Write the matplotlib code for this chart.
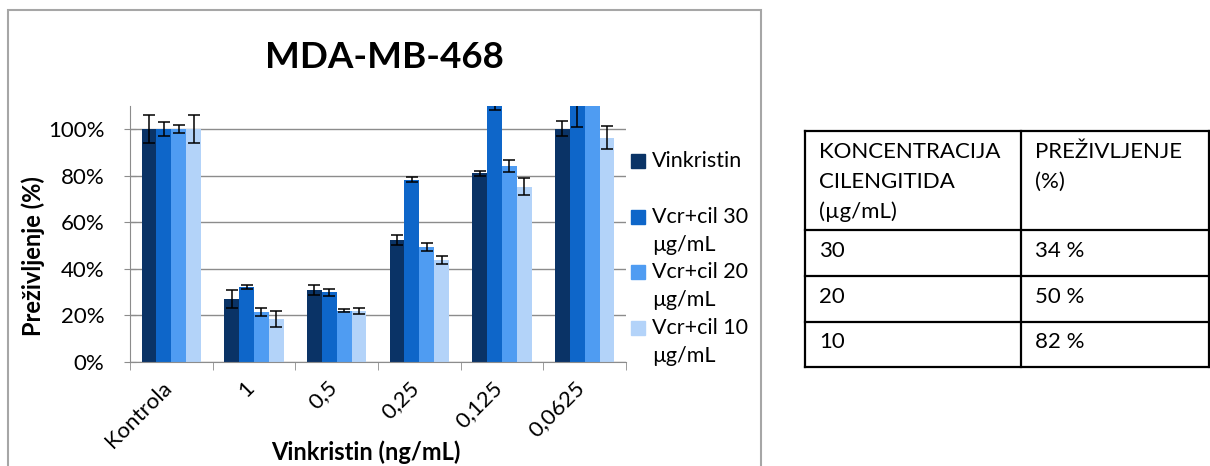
import numpy as np
import matplotlib
matplotlib.use("Agg")
import matplotlib.pyplot as plt
from matplotlib.lines import Line2D
from matplotlib.patches import Rectangle
from matplotlib.ticker import PercentFormatter, FixedLocator
from matplotlib.transforms import ScaledTranslation

plt.rcParams["font.family"] = ["Lato", "DejaVu Sans"]

# ---- data ----
categories = ["Kontrola", "1", "0,5", "0,25", "0,125", "0,0625"]
series = ["Vinkristin", "Vcr+cil 30\nµg/mL", "Vcr+cil 20\nµg/mL", "Vcr+cil 10\nµg/mL"]
vinkristin = [100, 27, 31, 52.4, 81, 100.3]
vinkristin_err = [6, 4, 2.3, 2, 1, 3.4]
vcr30 = [100, 32.3, 29.9, 78.4, 111, 116]
vcr30_err = [3, 1, 1.5, 1, 2.6, 15]
vcr20 = [100, 21.6, 22, 49.5, 84.2, 118]
vcr20_err = [1.7, 1.8, 0.6, 1.8, 2.4, 5]
vcr10 = [100, 18.4, 21.9, 43.8, 75.4, 96.4]
vcr10_err = [6, 3.5, 1.3, 1.9, 3.8, 4.9]
colors = ["#0A3366", "#0E66C9", "#4F9CF2", "#B3D3F9"]

table_header = [["KONCENTRACIJA", "CILENGITIDA", "(µg/mL)"], ["PREŽIVLJENJE", "(%)"]]
table_rows = [["30", "34 %"], ["20", "50 %"], ["10", "82 %"]]

W, H = 1210, 466
fig = plt.figure(figsize=(W / 100, H / 100), dpi=100)


def fx(x):
    return x / W


def fy(y):
    return 1 - y / H


# chart frame (bottom edge runs off the picture)
fig.add_artist(Rectangle((fx(8), fy(480)), fx(761) - fx(8), fy(10) - fy(480),
                         transform=fig.transFigure, fill=False,
                         edgecolor="#A6A6A6", lw=1.5))

ax = fig.add_axes([fx(130), fy(362), fx(626) - fx(130), fy(106) - fy(362)])
values = [vinkristin, vcr30, vcr20, vcr10]
errors = [vinkristin_err, vcr30_err, vcr20_err, vcr10_err]
x = np.arange(len(categories))
w = 0.18
for i, (v, e, c) in enumerate(zip(values, errors, colors)):
    ax.bar(x + (i - 1.5) * w, v, width=w, color=c, zorder=2)
    ax.errorbar(x + (i - 1.5) * w, v, yerr=e, fmt="none", ecolor="black",
                elinewidth=1.1, capsize=4.3, capthick=1.1, zorder=3)

ax.set_xlim(-0.5, len(categories) - 0.5)
ax.set_ylim(0, 110)
ax.set_yticks(np.arange(0, 101, 20))
ax.yaxis.set_major_formatter(PercentFormatter(xmax=100, decimals=0))
ax.yaxis.grid(True, color="#8C8C8C", lw=1, zorder=0)
ax.set_axisbelow(True)
for s in ("top", "right"):
    ax.spines[s].set_visible(False)
for s in ("left", "bottom"):
    ax.spines[s].set_color("#8C8C8C")
ax.tick_params(axis="y", direction="inout", length=9, color="#8C8C8C",
               labelsize=16, pad=14)
ax.set_xticks(x)
ax.set_xticklabels(categories, rotation=45, ha="right", va="top",
                   rotation_mode="anchor", fontsize=16)
ax.tick_params(axis="x", length=0, pad=11)
shift = ScaledTranslation(-0.1, 0, fig.dpi_scale_trans)
for lab in ax.get_xticklabels():
    lab.set_transform(lab.get_transform() + shift)
ax.xaxis.set_minor_locator(FixedLocator(np.arange(-0.5, len(categories), 1)))
ax.tick_params(axis="x", which="minor", direction="out", length=6, color="#8C8C8C")

fig.text(fx(384), fy(58), "MDA-MB-468", ha="center", va="center",
         fontsize=26.5, fontweight="bold")
fig.text(fx(33), fy(256), "Preživljenje (%)", rotation=90, ha="center",
         va="center", fontsize=17, fontweight="bold")
fig.text(fx(366), fy(452), "Vinkristin (ng/mL)", ha="center", va="center",
         fontsize=17, fontweight="bold")

# legend, Excel style (entries evenly spaced, labels wrapped)
for i, (name, c) in enumerate(zip(series, colors)):
    y0 = 161 + i * 55.7
    fig.add_artist(Rectangle((fx(631), fy(y0 + 7)), fx(14), 14 / H,
                             transform=fig.transFigure, color=c))
    for j, line in enumerate(name.split("\n")):
        fig.text(fx(652), fy(y0 + j * 28), line, ha="left", va="center",
                 fontsize=15.5)

# table on the right
tx = [805, 1021, 1209]
ty = [131, 230, 276, 322, 367]
for yy in ty:
    fig.add_artist(Line2D([fx(tx[0]), fx(tx[-1])], [fy(yy), fy(yy)],
                          transform=fig.transFigure, color="black", lw=1.6))
for xx in tx:
    fig.add_artist(Line2D([fx(xx), fx(xx)], [fy(ty[0]), fy(ty[-1])],
                          transform=fig.transFigure, color="black", lw=1.6))
for ci, cell in enumerate(table_header):
    for j, line in enumerate(cell):
        fig.text(fx(tx[ci] + 14), fy(152 + j * 30), line, ha="left",
                 va="center", fontsize=16)
for ri, row in enumerate(table_rows):
    yc = (ty[ri + 1] + ty[ri + 2]) / 2 - 2
    for ci, val in enumerate(row):
        fig.text(fx(tx[ci] + 14), fy(yc), val, ha="left", va="center",
                 fontsize=16)

fig.savefig("out.png", dpi=100)
